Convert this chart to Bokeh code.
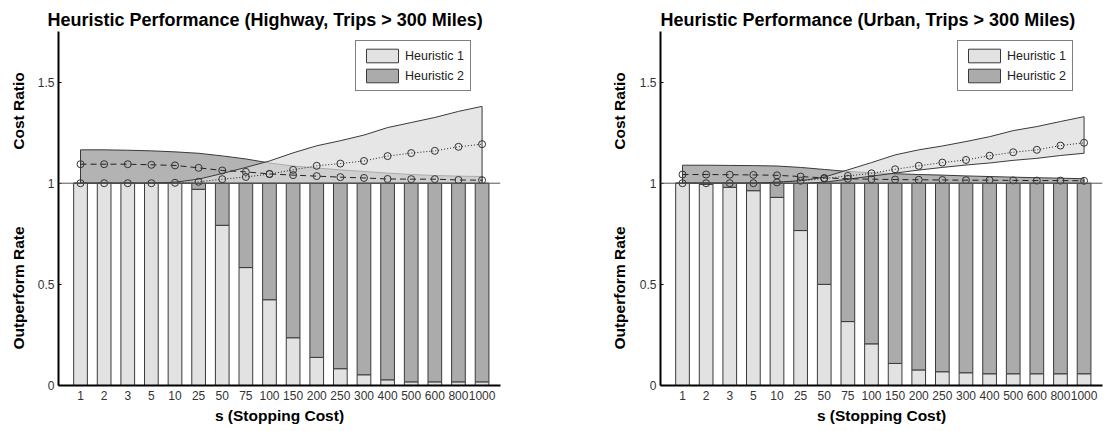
import math
from bokeh.plotting import figure
from bokeh.models import ColumnDataSource, Legend, LegendItem, FixedTicker, Span, Range1d
from bokeh.layouts import row
from bokeh.embed import file_html
from bokeh.resources import INLINE
from bokeh.core.properties import value

# ---------------- data ----------------
s_labels = ["1", "2", "3", "5", "10", "25", "50", "75", "100", "150", "200",
            "250", "300", "400", "500", "600", "800", "1000"]

# Highway: share of trips where Heuristic 1 outperforms
hw_rate_h1 = [1.0, 1.0, 1.0, 1.0, 1.0, 0.97, 0.792, 0.583, 0.424, 0.236, 0.139,
              0.083, 0.053, 0.028, 0.018, 0.018, 0.018, 0.018]
# Highway cost ratios
hw_h1_mid = [1.0, 1.0, 1.0, 1.0, 1.002, 1.007, 1.02, 1.031, 1.045, 1.066, 1.086,
             1.097, 1.11, 1.134, 1.149, 1.16, 1.18, 1.193]
hw_h1_hi = [1.0, 1.0, 1.0, 1.0, 1.005, 1.02, 1.048, 1.078, 1.11, 1.15, 1.185,
            1.21, 1.238, 1.275, 1.3, 1.325, 1.355, 1.38]
hw_h1_lo = [1.0, 1.0, 1.0, 1.0, 1.0, 1.0, 1.0, 1.0, 1.0, 1.0, 1.0,
            1.0, 1.0, 1.0, 1.0, 1.0, 1.0, 1.0]
hw_h2_mid = [1.094, 1.094, 1.094, 1.091, 1.088, 1.076, 1.063, 1.056, 1.046, 1.04, 1.035,
             1.03, 1.026, 1.021, 1.02, 1.02, 1.016, 1.015]
hw_h2_hi = [1.165, 1.165, 1.163, 1.16, 1.155, 1.148, 1.135, 1.12, 1.1, 1.085, 1.075,
            1.066, 1.058, 1.05, 1.043, 1.038, 1.035, 1.033]
hw_h2_lo = [1.0, 1.0, 1.0, 1.0, 1.0, 1.0, 1.0, 1.0, 1.0, 1.0, 1.0,
            1.0, 1.0, 1.0, 1.0, 1.0, 1.0, 1.0]

# Urban
ub_rate_h1 = [1.0, 0.995, 0.98, 0.963, 0.93, 0.766, 0.5, 0.316, 0.206, 0.109, 0.077,
              0.068, 0.063, 0.058, 0.058, 0.058, 0.058, 0.058]
ub_h1_mid = [1.0, 1.0, 1.0, 1.0, 1.004, 1.012, 1.023, 1.036, 1.049, 1.069, 1.086,
             1.102, 1.115, 1.136, 1.153, 1.165, 1.186, 1.2]
ub_h1_hi = [1.0, 1.0, 1.0, 1.0, 1.005, 1.012, 1.03, 1.066, 1.102, 1.14, 1.165,
            1.184, 1.206, 1.23, 1.26, 1.28, 1.305, 1.329]
ub_h1_lo = [1.0, 1.0, 1.0, 1.0, 1.0, 1.0, 1.005, 1.02, 1.035, 1.05, 1.065,
            1.078, 1.09, 1.1, 1.113, 1.123, 1.137, 1.148]
ub_h2_mid = [1.043, 1.043, 1.042, 1.041, 1.039, 1.033, 1.026, 1.022, 1.02, 1.018, 1.017,
             1.016, 1.015, 1.015, 1.014, 1.013, 1.013, 1.012]
ub_h2_hi = [1.089, 1.089, 1.088, 1.087, 1.085, 1.078, 1.068, 1.058, 1.052, 1.047, 1.043,
            1.04, 1.036, 1.033, 1.03, 1.027, 1.025, 1.022]
ub_h2_lo = [1.0, 1.0, 1.0, 1.0, 1.0, 1.0, 1.0, 1.0, 1.0, 1.0, 1.0,
            1.0, 1.0, 1.0, 1.0, 1.0, 1.0, 1.0]

titles = ["Heuristic Performance (Highway, Trips > 300 Miles)",
          "Heuristic Performance (Urban, Trips > 300 Miles)"]
series_names = ["Heuristic 1", "Heuristic 2"]
y_titles = ["Cost Ratio", "Outperform Rate"]
y_ticks = [0, 0.5, 1, 1.5]
y_tick_labels = ["0", "0.5", "1", "1.5"]

# ---------------- style ----------------
LIGHT = "#e2e2e2"
DARK = "#ababab"
EDGE = "#3a3a3a"
FONT = "Liberation Sans"
FRAME_W, FRAME_H = 442, 354
TOP, BOTTOM = 31, 46
AXIS_BORDER = 30
X_RANGE = (0.068, 18.78)
Y_START, Y_END = 0, 1.75


def make_label_panel(width, center_x):
    """Narrow strip to the left of a chart holding the two y-axis titles."""
    lab = figure(width=width, frame_width=width, frame_height=FRAME_H,
                 x_range=Range1d(0, width), y_range=Range1d(Y_START, Y_END),
                 x_axis_location=None, y_axis_location=None,
                 output_backend="svg", toolbar_location=None,
                 min_border_left=0, min_border_right=0,
                 min_border_top=TOP, min_border_bottom=BOTTOM)
    lab.outline_line_color = None
    lab.grid.visible = False
    lab.text(x=[center_x, center_x], y=[1.357, 0.482], text=y_titles,
             angle=math.pi / 2, text_align="center", text_baseline="middle",
             text_font=value(FONT), text_font_size="15.5px",
             text_font_style="bold", text_color="black")
    return lab


def make_chart(title, title_offset, rate, h1_mid, h1_hi, h1_lo, h2_mid, h2_hi, h2_lo, br):
    x = list(range(1, len(s_labels) + 1))
    p = figure(frame_width=FRAME_W, frame_height=FRAME_H,
               x_range=X_RANGE, y_range=(Y_START, Y_END),
               output_backend="svg", toolbar_location=None,
               min_border_left=AXIS_BORDER, min_border_right=br,
               min_border_top=TOP, min_border_bottom=BOTTOM)
    p.outline_line_color = None
    p.xgrid.visible = False
    p.ygrid.visible = False

    p.title.text = title
    p.title.text_font = FONT
    p.title.text_font_size = "18px"
    p.title.text_font_style = "bold"
    p.title.text_color = "black"
    p.title.align = "left"
    p.title.offset = title_offset
    p.title.standoff = 3

    src = ColumnDataSource(dict(x=x, h1=rate, h2=[1 - r for r in rate]))
    bars = p.vbar_stack(["h1", "h2"], x="x", width=0.58, source=src,
                        fill_color=[LIGHT, DARK], line_color=EDGE, line_width=1)

    p.add_layout(Span(location=1, dimension="width", line_color="#555555", line_width=1))

    # bands
    poly_x = x + x[::-1]
    p.patch(poly_x, h2_hi + h2_lo[::-1], fill_color="#9a9a9a", fill_alpha=0.75,
            line_color=EDGE, line_width=1)
    p.patch(poly_x, h1_hi + h1_lo[::-1], fill_color="#dcdcdc", fill_alpha=0.7,
            line_color=EDGE, line_width=1)

    # mean lines
    p.line(x, h2_mid, line_color="#222222", line_width=1, line_dash="6 4")
    p.scatter(x, h2_mid, size=7, fill_alpha=0, line_color="#333333", line_width=1)
    p.line(x, h1_mid, line_color="#222222", line_width=1, line_dash="1 2")
    p.scatter(x, h1_mid, size=7, fill_alpha=0, line_color="#333333", line_width=1)

    # axes
    xa = p.xaxis[0]
    xa.ticker = FixedTicker(ticks=x)
    xa.major_label_overrides = {i: lab for i, lab in zip(x, s_labels)}
    xa.major_tick_in = 0
    xa.major_tick_out = 0
    xa.minor_tick_in = 0
    xa.minor_tick_out = 0
    xa.axis_line_width = 2
    xa.axis_line_color = "black"
    xa.major_label_text_font = FONT
    xa.major_label_text_font_size = "12px"
    xa.major_label_text_color = "#333333"
    xa.major_label_standoff = 5
    xa.axis_label = "s (Stopping Cost)"
    xa.axis_label_text_font = FONT
    xa.axis_label_text_font_size = "15.5px"
    xa.axis_label_text_font_style = "bold"
    xa.axis_label_text_color = "black"
    xa.axis_label_standoff = 4

    ya = p.yaxis[0]
    ya.ticker = FixedTicker(ticks=y_ticks)
    ya.major_label_overrides = {t: lab for t, lab in zip(y_ticks, y_tick_labels)}
    ya.major_tick_in = 3
    ya.major_tick_out = 0
    ya.minor_tick_in = 0
    ya.minor_tick_out = 0
    ya.major_tick_line_color = "black"
    ya.axis_line_width = 2
    ya.axis_line_color = "black"
    ya.major_label_text_font = FONT
    ya.major_label_text_font_size = "12px"
    ya.major_label_text_color = "#333333"
    ya.major_label_standoff = 4

    legend = Legend(items=[LegendItem(label=series_names[0], renderers=[bars[0]]),
                           LegendItem(label=series_names[1], renderers=[bars[1]])],
                    location=(297, 294), glyph_width=40, glyph_height=17,
                    label_height=17, label_standoff=3, padding=6, spacing=3,
                    margin=0, label_text_font=FONT, label_text_font_size="12.5px",
                    label_text_color="#222222",
                    border_line_color="black", border_line_width=1.5,
                    background_fill_color="white", background_fill_alpha=1)
    p.add_layout(legend)
    return p


lab1 = make_label_panel(58 - AXIS_BORDER, 17.5)
p1 = make_chart(titles[0], -11, hw_rate_h1, hw_h1_mid, hw_h1_hi, hw_h1_lo,
                hw_h2_mid, hw_h2_hi, hw_h2_lo, 53)
# p1 ends at 58 + 442 + 53 = 553
lab2 = make_label_panel(660 - 553 - AXIS_BORDER, 618.5 - 553)
p2 = make_chart(titles[1], 0, ub_rate_h1, ub_h1_mid, ub_h1_hi, ub_h1_lo,
                ub_h2_mid, ub_h2_hi, ub_h2_lo, 4)

layout = row(lab1, p1, lab2, p2)
open("out.html", "w").write(file_html(layout, INLINE))
